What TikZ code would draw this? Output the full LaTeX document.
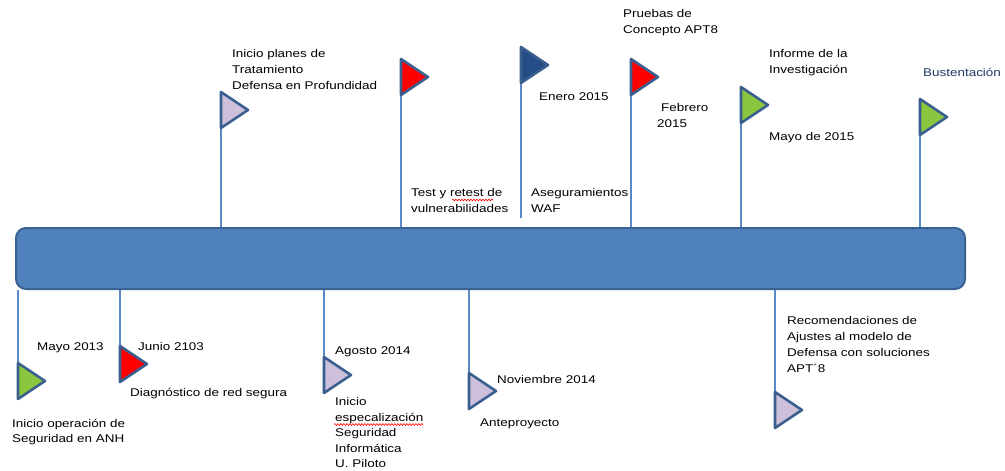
\documentclass[tikz,border=0pt]{standalone}
\usepackage{fontspec}
\setmainfont{Liberation Sans}[FakeStretch=1.2]
\usetikzlibrary{decorations.pathmorphing}
\definecolor{barfill}{HTML}{4F81BD}
\definecolor{barline}{HTML}{3A6394}
\definecolor{polec}{HTML}{5A8AC6}
\definecolor{flagline}{HTML}{3A5F8F}
\definecolor{lav}{HTML}{CCC0DA}
\definecolor{fred}{HTML}{FF0000}
\definecolor{fgreen}{HTML}{8CC63F}
\definecolor{fdark}{HTML}{254E86}
\definecolor{sust}{HTML}{1F3864}
\tikzset{
  lbl/.style={anchor=base west, inner sep=0pt, font=\fontsize{11.2}{16}\selectfont, align=left},
  barbox/.style={draw=barline, line width=2pt, fill=barfill, rounded corners=10pt},
  polel/.style={draw=polec, line width=1.5pt},
  flagl/.style={draw=flagline, line width=2.6pt, line join=round},
  squig/.style={draw=red, line width=0.6pt, decorate, decoration={snake, amplitude=0.9pt, segment length=3pt}}
}
\newcommand{\flagtri}[2]{% coordinate name, fill
  \draw[flagl, fill=#2] (#1) -- ++(0,36) -- ++(27,-18) -- cycle;}
\begin{document}
\begin{tikzpicture}[x=1pt,y=-1pt]
\useasboundingbox (0,0) rectangle (1005,471);
% bar
\node[barbox, minimum width=949pt, minimum height=61pt, inner sep=0pt] (bar) at (490.5,258.5) {};
% flag tops (top-left corner of each flag)
\coordinate (fA) at (221,92);
\coordinate (fB) at (401,59);
\coordinate (fC) at (521,47);
\coordinate (fD) at (631,59);
\coordinate (fE) at (741,87);
\coordinate (fF) at (920,99);
\coordinate (fG) at (18,363);
\coordinate (fH) at (120,346);
\coordinate (fI) at (324,357);
\coordinate (fJ) at (469,373);
\coordinate (fK) at (775,392);
\coordinate (endC) at (521,218);
% poles
\foreach \f in {fA,fB,fD,fE,fF}{\draw[polel] (\f) -- (\f |- bar.north);}
\draw[polel] (fC) -- (endC);
\foreach \f in {fG,fH,fI,fJ,fK}{\draw[polel] (\f |- bar.south) -- ([yshift=-36pt]\f);}
% flags
\flagtri{fA}{lav}
\flagtri{fB}{fred}
\flagtri{fC}{fdark}
\flagtri{fD}{fred}
\flagtri{fE}{fgreen}
\flagtri{fF}{fgreen}
\flagtri{fG}{fgreen}
\flagtri{fH}{fred}
\flagtri{fI}{lav}
\flagtri{fJ}{lav}
\flagtri{fK}{lav}
% top labels (multi-line: base = last line)
\node[lbl] (tA) at (232,89) {Inicio planes de\\Tratamiento\\Defensa en Profundidad};
\node[lbl] (tB) at (411,212) {Test y retest de\\vulnerabilidades};
\node[lbl] (tD) at (623,33) {Pruebas de\\Concepto APT8};
\node[lbl] (dC) at (539,100) {Enero 2015};
\node[lbl] (tC) at (531,212) {Aseguramientos\\WAF};
\node[lbl] (dD) at (657,127) {\hspace{4pt}Febrero\\2015};
\node[lbl] (tE) at (769,73) {Informe de la\\Investigación};
\node[lbl] (dE) at (769,140) {Mayo de 2015};
\node[lbl, text=sust] (tF) at (923,76) {Bustentación};
% bottom labels
\node[lbl] (dG) at (37,350) {Mayo 2013};
\node[lbl] (dH) at (138,350) {Junio 2103};
\node[lbl] (tH) at (130,396) {Diagnóstico de red segura};
\node[lbl, font=\fontsize{11.2}{15}\selectfont] (tG) at (12,442) {Inicio operación de\\Seguridad en ANH};
\node[lbl] (dI) at (335,354) {Agosto 2014};
\node[lbl, font=\fontsize{11.2}{15.4}\selectfont] (tI) at (335,467.5) {Inicio\\especalización\\Seguridad\\Informática\\U. Piloto};
\node[lbl] (dJ) at (497,383) {Noviembre 2014};
\node[lbl] (tJ) at (480,426) {Anteproyecto};
\node[lbl] (tK) at (787,372) {Recomendaciones de\\Ajustes al modelo de\\Defensa con soluciones\\APT´8};
% spell-check squiggles
\coordinate (sq1a) at (452,200); \coordinate (sq1b) at (493,200);
\coordinate (sq2a) at (334,424.5); \coordinate (sq2b) at (423,424.5);
\draw[squig] (sq1a) -- (sq1b);
\draw[squig] (sq2a) -- (sq2b);
\end{tikzpicture}
\end{document}
